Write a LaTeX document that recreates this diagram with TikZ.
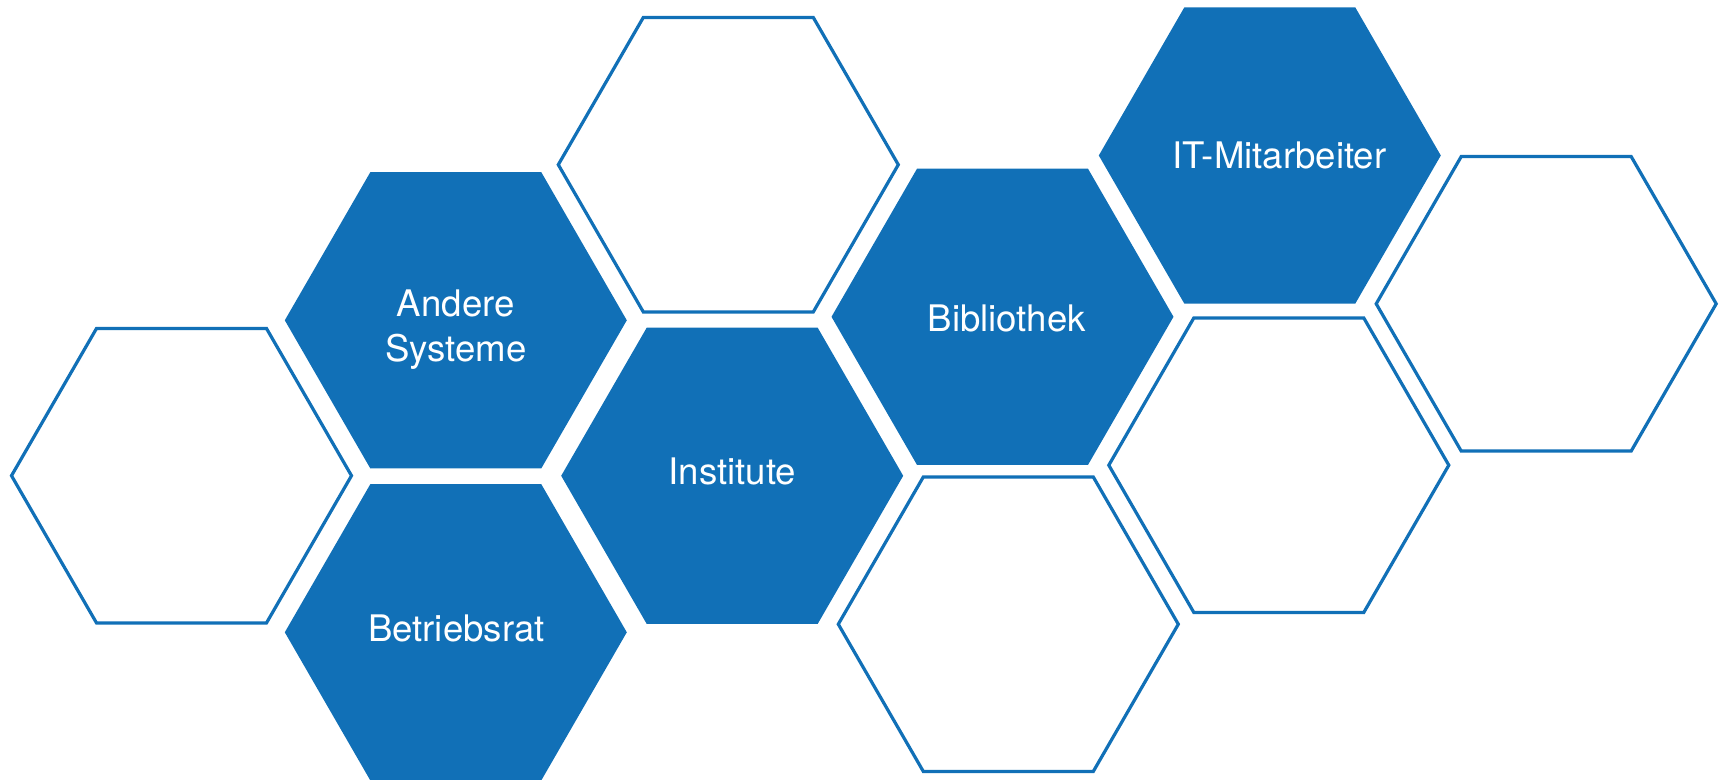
\documentclass[tikz,border=0pt]{standalone}
\usepackage{fontspec}
\setmainfont{TeX Gyre Heros}
\usetikzlibrary{shapes.geometric}
\definecolor{hexblue}{RGB}{17,112,183}
\begin{document}
\begin{tikzpicture}[x=0.5pt,y=-0.5pt,
  hexfill/.style={regular polygon, regular polygon sides=6, minimum size=171pt,
    inner sep=0pt, outer sep=0pt, fill=hexblue, draw=none},
  hexline/.style={regular polygon, regular polygon sides=6, minimum size=170pt,
    inner sep=0pt, outer sep=0pt, draw=hexblue, line width=1.6pt, fill=white},
  lbl/.style={text=white, font=\fontsize{18.3pt}{22.5pt}\selectfont, align=center,
    anchor=base, inner sep=0pt}]
\useasboundingbox (0,0) rectangle (1725,780);
\clip (0,0) rectangle (1725,780);
% outlined hexagons
\node[hexline] (e1) at (181.5,475.7) {};
\node[hexline] (e2) at (728.3,164.7) {};
\node[hexline] (e3) at (1008.3,624.2) {};
\node[hexline] (e4) at (1278.8,465.2) {};
\node[hexline] (e5) at (1546.2,303.8) {};
% filled hexagons
\node[hexfill] (andere) at (455.8,320.3) {};
\node[hexfill] (betriebsrat) at (455.8,632.3) {};
\node[hexfill] (institute) at (732.2,475.8) {};
\node[hexfill] (bibliothek) at (1002.5,316.8) {};
\node[hexfill] (it) at (1269.8,155.5) {};
% labels
\node[lbl] (tandere) at (455.8,361.7) {Andere\\Systeme};
\node[lbl] (tbetriebsrat) at (456.3,641.7) {Betriebsrat};
\node[lbl] (tinstitute) at (732.5,485) {Institute};
\node[lbl] (tbibliothek) at (1006.7,331.7) {Bibliothek};
\node[lbl] (tit) at (1279.2,168.3) {IT-Mitarbeiter};
\end{tikzpicture}
\end{document}
